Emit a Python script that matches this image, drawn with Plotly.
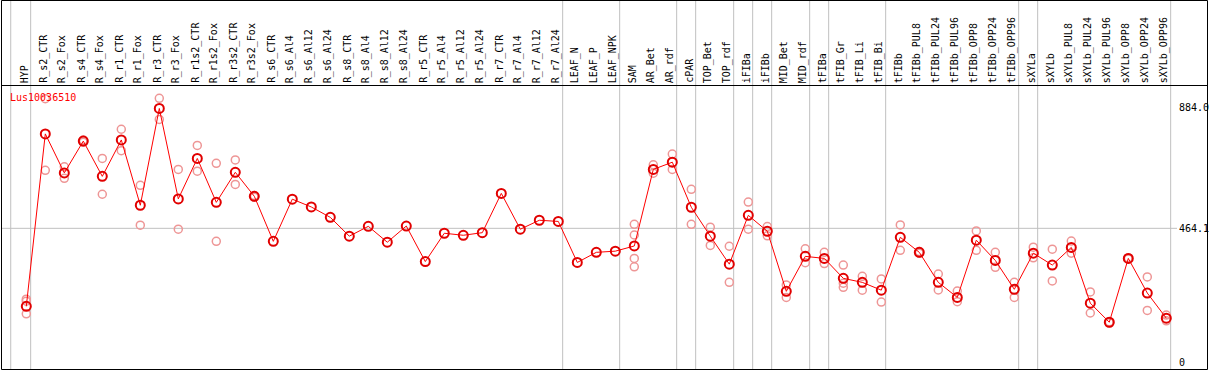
import plotly.graph_objects as go

W, H = 1209, 370

categories = [
    "HYP", "R_s2_CTR", "R_s2_Fox", "R_s4_CTR", "R_s4_Fox", "R_r1_CTR", "R_r1_Fox",
    "R_r3_CTR", "R_r3_Fox", "R_r1s2_CTR", "R_r1s2_Fox", "R_r3s2_CTR", "R_r3s2_Fox",
    "R_s6_CTR", "R_s6_Al4", "R_s6_Al12", "R_s6_Al24", "R_s8_CTR", "R_s8_Al4",
    "R_s8_Al12", "R_s8_Al24", "R_r5_CTR", "R_r5_Al4", "R_r5_Al12", "R_r5_Al24",
    "R_r7_CTR", "R_r7_Al4", "R_r7_Al12", "R_r7_Al24", "LEAF_N", "LEAF_P", "LEAF_NPK",
    "SAM", "AR_Bet", "AR_rdf", "cPAR", "TOP_Bet", "TOP_rdf", "iFIBa", "iFIBb",
    "MID_Bet", "MID_rdf", "tFIBa", "tFIB_Gr", "tFIB_Li", "tFIB_Bi", "tFIBb",
    "tFIBb_PUL8", "tFIBb_PUL24", "tFIBb_PUL96", "tFIBb_OPP8", "tFIBb_OPP24",
    "tFIBb_OPP96", "sXYLa", "sXYLb", "sXYLb_PUL8", "sXYLb_PUL24", "sXYLb_PUL96",
    "sXYLb_OPP8", "sXYLb_OPP24", "sXYLb_OPP96",
]

mean_values = [
    194, 791, 656, 766, 644, 770, 544, 879, 566, 706, 554, 658, 575,
    419, 565, 538, 502, 437, 471, 416, 472, 349, 447, 440, 449,
    585, 461, 492, 488, 346, 381, 385,
    403, 668, 693, 537, 437, 340, 509, 454,
    246, 367, 360, 291, 277, 250, 433,
    381, 277, 225, 423, 353, 253,
    378, 337, 398, 205, 139, 360, 240, 153,
]

replicates = {
    "HYP": [219, 212, 168], "R_s2_CTR": [913, 665], "R_s2_Fox": [677, 637],
    "R_s4_CTR": [770, 762], "R_s4_Fox": [706, 582], "R_r1_CTR": [807, 733],
    "R_r1_Fox": [613, 475], "R_r3_CTR": [914, 841], "R_r3_Fox": [668, 461],
    "R_r1s2_CTR": [751, 662], "R_r1s2_Fox": [689, 419], "R_r3s2_CTR": [701, 616],
    "R_r3s2_Fox": [578, 572],
    "SAM": [478, 441, 360, 331], "AR_Bet": [684, 655], "AR_rdf": [721, 668],
    "cPAR": [599, 478], "TOP_Bet": [468, 405], "TOP_rdf": [402, 277],
    "iFIBa": [555, 461], "iFIBb": [470, 438], "MID_Bet": [268, 225],
    "MID_rdf": [393, 345], "tFIBa": [381, 342], "tFIB_Gr": [337, 274, 260],
    "tFIB_Li": [298, 250], "tFIB_Bi": [289, 209], "tFIBb": [476, 388],
    "tFIBb_PUL8": [384, 378], "tFIBb_PUL24": [306, 251], "tFIBb_PUL96": [247, 210],
    "tFIBb_OPP8": [455, 388], "tFIBb_OPP24": [381, 329], "tFIBb_OPP96": [277, 225],
    "sXYLa": [399, 362], "sXYLb": [392, 282], "sXYLb_PUL8": [420, 378],
    "sXYLb_PUL24": [244, 171], "sXYLb_PUL96": [141, 137], "sXYLb_OPP8": [362, 358],
    "sXYLb_OPP24": [296, 180], "sXYLb_OPP96": [164, 144],
}

group_ends = ["HYP", "R_r7_Al24", "LEAF_NPK", "AR_rdf", "cPAR", "TOP_rdf", "iFIBa",
              "iFIBb", "MID_rdf", "tFIBa", "tFIB_Bi", "tFIBb_OPP96", "sXYLa",
              "sXYLb_OPP96"]

y_ticks = [0, 464.1, 884.0]
y_tick_text = ["0", "464.1", "884.0"]
gene_name = "Lus10036510"

# pixel geometry helpers
X0_PX, STEP_PX = 26.3, 19.0
Y0_PX, YSCALE = 362.4, 0.2889
x_range = [(0 - X0_PX) / STEP_PX, (W - X0_PX) / STEP_PX]
y_range = [(Y0_PX - H) / YSCALE, Y0_PX / YSCALE]

def py(px):
    return 1 - px / H

def pxx(px):
    return px / W

idx = list(range(len(categories)))
pos = {c: i for i, c in enumerate(categories)}

rep_x, rep_y = [], []
for c, vals in replicates.items():
    for v in vals:
        rep_x.append(pos[c])
        rep_y.append(v)

fig = go.Figure()
fig.add_trace(go.Scatter(
    x=rep_x, y=rep_y, mode="markers",
    marker=dict(symbol="circle-open", size=8, color="rgb(238,150,150)",
                line=dict(width=1.5, color="rgb(238,150,150)")),
    hoverinfo="skip", showlegend=False))
fig.add_trace(go.Scatter(
    x=idx, y=mean_values, mode="lines+markers",
    line=dict(color="red", width=1),
    marker=dict(symbol="circle-open", size=9, color="rgb(225,0,0)",
                line=dict(width=2, color="rgb(225,0,0)")),
    showlegend=False))

shapes = []
gray = "rgb(192,192,192)"
# group separators
sep_x = [-0.82] + [pos[c] + 0.23 for c in group_ends]
for sx in sep_x:
    shapes.append(dict(type="line", xref="x", yref="paper", x0=sx, x1=sx,
                       y0=py(369), y1=py(0), line=dict(color=gray, width=1), layer="below"))
# horizontal gridline at 464.1
shapes.append(dict(type="line", xref="paper", yref="y", x0=pxx(1), x1=pxx(1177),
                   y0=y_ticks[1], y1=y_ticks[1], line=dict(color=gray, width=1), layer="below"))
# label separator
shapes.append(dict(type="line", xref="paper", yref="paper", x0=pxx(1), x1=pxx(1208),
                   y0=py(85.5), y1=py(85.5), line=dict(color="black", width=1)))
# frame
shapes.append(dict(type="rect", xref="paper", yref="paper", x0=pxx(1.5), x1=pxx(1207.5),
                   y0=py(369.5), y1=py(0.5), line=dict(color="black", width=1)))

annotations = []
font = dict(family="DejaVu Sans Mono", size=10, color="black")
for i, c in enumerate(categories):
    annotations.append(dict(x=i, y=py(84), xref="x", yref="paper", text=c,
                            textangle=-90, xanchor="center", yanchor="bottom",
                            xshift=-2, showarrow=False, font=font, borderpad=0))
for v, t in zip(y_ticks, y_tick_text):
    annotations.append(dict(x=pxx(1178), y=v, xref="paper", yref="y", text=t,
                            xanchor="left", yanchor="middle", showarrow=False,
                            font=font, borderpad=0))
annotations.append(dict(x=pxx(9), y=py(97), xref="paper", yref="paper", text=gene_name,
                        xanchor="left", yanchor="middle", showarrow=False,
                        font=dict(family="DejaVu Sans Mono", size=10, color="red"),
                        borderpad=0))

fig.update_layout(
    width=W, height=H, autosize=False,
    margin=dict(l=0, r=0, t=0, b=0),
    paper_bgcolor="white", plot_bgcolor="white",
    xaxis=dict(range=x_range, visible=False, fixedrange=True),
    yaxis=dict(range=y_range, visible=False, fixedrange=True),
    shapes=shapes, annotations=annotations,
)

fig.write_html("out.html", config={"displayModeBar": False},
               post_script="document.body.style.margin='0';document.body.style.overflow='hidden';")
